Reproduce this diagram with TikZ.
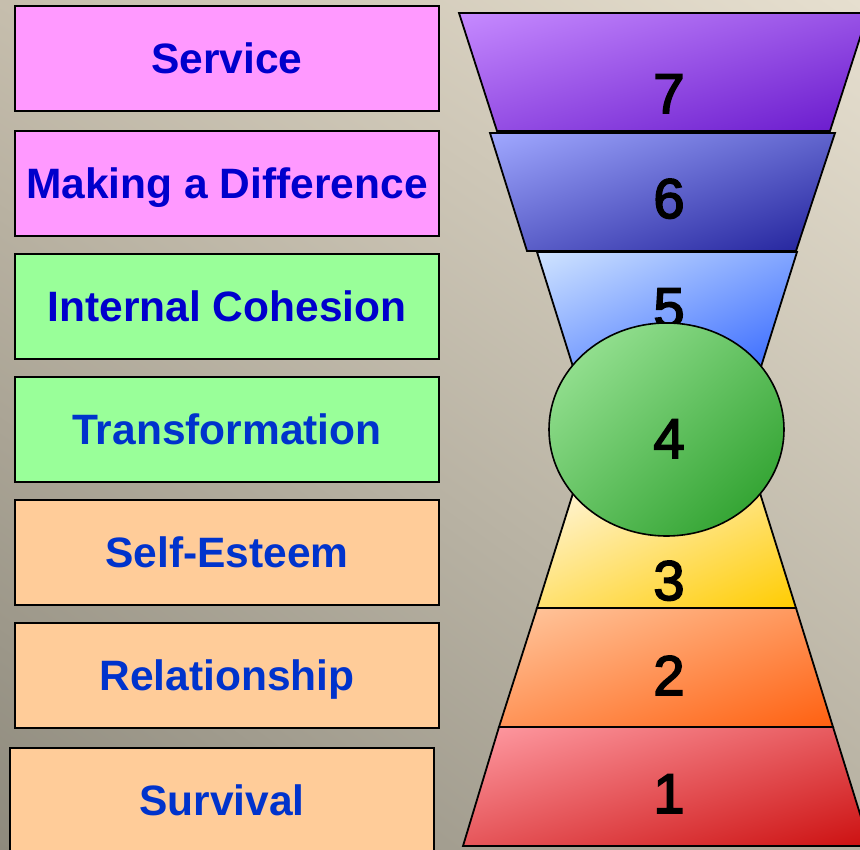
\documentclass[tikz,border=0pt]{standalone}
\usepackage{fontspec}
\setmainfont{Liberation Sans}
\newfontfamily\numfont[FakeBold=3]{Liberation Sans}
\usetikzlibrary{shapes.geometric,shadings}
\definecolor{pinkbox}{HTML}{FF99FF}
\definecolor{greenbox}{HTML}{99FF99}
\definecolor{peachbox}{HTML}{FFCC99}
\definecolor{txtA}{HTML}{0000CC}
\definecolor{txtB}{HTML}{0033CC}
\definecolor{bgUL}{HTML}{C6BEAD}
\definecolor{bgUR}{HTML}{E6DFCF}
\definecolor{bgLL}{HTML}{8E8A7D}
\definecolor{bgLR}{HTML}{B6B0A1}
\definecolor{s7a}{HTML}{C68AFF}\definecolor{s7b}{HTML}{6818CC}
\definecolor{s6a}{HTML}{A0A8FF}\definecolor{s6b}{HTML}{20209A}
\definecolor{s5a}{HTML}{D0E4FF}\definecolor{s5b}{HTML}{3366FF}
\definecolor{s3a}{HTML}{FFF6E0}\definecolor{s3b}{HTML}{FFCC00}
\definecolor{s2a}{HTML}{FFC8A0}\definecolor{s2b}{HTML}{FF6010}
\definecolor{s1a}{HTML}{FF9CA4}\definecolor{s1b}{HTML}{CC1010}
\definecolor{s4a}{HTML}{A4EAA0}\definecolor{s4b}{HTML}{229922}
\tikzset{
  label box/.style={draw=black, line width=1.8pt, rectangle, minimum width=424pt,
    minimum height=105pt, inner sep=0pt, font=\fontsize{42.5}{42.5}\selectfont\bfseries,
    text height=30pt, text depth=0pt},
  layer/.style={draw=black, line width=1.8pt, line join=miter},
  grad/.style n args={2}{upper left=#1, lower right=#2, upper right=#1!50!#2, lower left=#1!50!#2},
  num/.style={anchor=base, inner sep=0pt, font=\numfont\fontsize{56}{56}\selectfont, text=black}
}
\begin{document}
\begin{tikzpicture}[x=1pt,y=1pt]
\useasboundingbox (0,0) rectangle (860,850);
\clip (0,0) rectangle (860,850);
\shade[upper left=bgUL, upper right=bgUR, lower left=bgLL, lower right=bgLR] (0,0) rectangle (860,850);

% left labels
\node[label box, fill=pinkbox, text=txtA] (b1) at (227,791.5) {Service};
\node[label box, fill=pinkbox, text=txtA] (b2) at (227,666.5) {Making a Difference};
\node[label box, fill=greenbox, text=txtA] (b3) at (227,543.5) {Internal Cohesion};
\node[label box, fill=greenbox, text=txtB] (b4) at (227,420.5) {Transformation};
\node[label box, fill=peachbox, text=txtB] (b5) at (227,297.5) {Self-Esteem};
\node[label box, fill=peachbox, text=txtB] (b6) at (227,174.5) {Relationship};
\node[label box, fill=peachbox, text=txtB] (b7) at (222,49.5) {Survival};

% hourglass layers
\shade[layer, grad={s7a}{s7b}] (459,837) -- (868,837) -- (830,719) -- (497,719) -- cycle;
\shade[layer, grad={s6a}{s6b}] (490,717) -- (835,717) -- (796,599) -- (527,599) -- cycle;
\shade[layer, grad={s5a}{s5b}] (537,598) -- (797,598) -- (760,480) -- (574,480) -- cycle;
\shade[layer, grad={s3a}{s3b}] (574,360) -- (759,360) -- (796,242) -- (537,242) -- cycle;
\shade[layer, grad={s2a}{s2b}] (537,242) -- (796,242) -- (833,123) -- (499,123) -- cycle;
\shade[layer, grad={s1a}{s1b}] (499,123) -- (833,123) -- (870,4) -- (463,4) -- cycle;

\node[num] (n7) at (669,737) {7};
\node[num] (n6) at (669,632) {6};
\node[num] (n5) at (669,523) {5};
\node[num] (n3) at (669,250) {3};
\node[num] (n2) at (669,155) {2};
\node[num] (n1) at (669,37) {1};

\node[ellipse, draw=black, line width=1.6pt, inner sep=0pt, minimum width=235pt,
  minimum height=213pt, shade, grad={s4a}{s4b}] (c4) at (666.5,420.5) {};
\node[num] (n4) at (669,392) {4};
\end{tikzpicture}
\end{document}
